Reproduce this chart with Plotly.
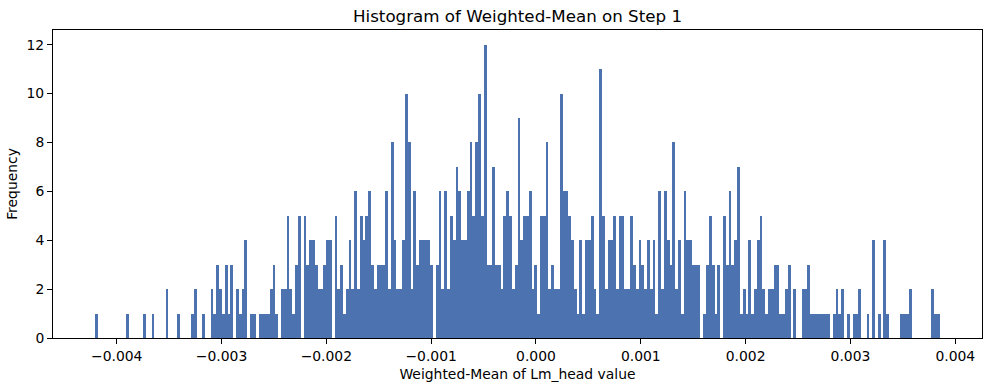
import numpy as np
import plotly.graph_objects as go

# Histogram data (300 equal-width bins)
data_min = -0.0042048
data_max = 0.0038522
counts = [
    1, 0, 0, 0, 0, 0, 0, 0, 0, 0,
    0, 1, 0, 0, 0, 0, 0, 1, 0, 0,
    1, 0, 0, 0, 0, 2, 0, 0, 0, 1,
    0, 0, 0, 0, 1, 2, 0, 0, 1, 0,
    0, 2, 1, 3, 2, 1, 3, 1, 3, 0,
    2, 1, 2, 4, 0, 1, 1, 0, 1, 1,
    1, 1, 2, 3, 1, 0, 2, 2, 5, 2,
    1, 3, 5, 0, 5, 3, 4, 4, 3, 2,
    2, 3, 4, 4, 0, 5, 2, 3, 1, 2,
    4, 2, 6, 2, 5, 4, 5, 6, 3, 2,
    3, 3, 3, 6, 2, 8, 4, 2, 2, 4,
    10, 8, 2, 6, 3, 4, 4, 4, 4, 3,
    0, 3, 6, 2, 6, 2, 5, 4, 7, 6,
    4, 4, 6, 8, 5, 8, 10, 5, 12, 3,
    3, 7, 3, 3, 2, 5, 6, 5, 2, 3,
    9, 4, 5, 5, 6, 2, 3, 1, 5, 5,
    8, 2, 3, 2, 2, 10, 6, 6, 5, 4,
    2, 1, 4, 1, 4, 4, 5, 2, 1, 11,
    5, 2, 4, 4, 5, 2, 5, 5, 2, 2,
    5, 3, 2, 4, 3, 2, 4, 2, 4, 1,
    6, 2, 6, 4, 3, 8, 2, 4, 1, 6,
    4, 4, 3, 3, 3, 0, 1, 3, 5, 3,
    1, 3, 0, 5, 3, 6, 3, 4, 7, 1,
    2, 1, 4, 1, 2, 4, 5, 2, 1, 2,
    2, 3, 3, 1, 1, 2, 3, 0, 2, 0,
    0, 2, 2, 3, 1, 1, 1, 1, 1, 1,
    1, 0, 1, 2, 1, 2, 0, 1, 0, 1,
    1, 2, 0, 0, 1, 0, 4, 0, 1, 0,
    4, 1, 0, 0, 0, 0, 1, 1, 1, 2,
    0, 0, 0, 0, 0, 0, 0, 2, 1, 1,
]
x_ticks = [-0.004, -0.003, -0.002, -0.001, 0.0, 0.001, 0.002, 0.003, 0.004]
x_tick_labels = ["\u22120.004", "\u22120.003", "\u22120.002", "\u22120.001", "0.000",
                 "0.001", "0.002", "0.003", "0.004"]
y_ticks = [0, 2, 4, 6, 8, 10, 12]

title_text = "Histogram of Weighted-Mean on Step 1"
x_label = "Weighted-Mean of Lm_head value"
y_label = "Frequency"

edges = np.linspace(data_min, data_max, len(counts) + 1)
centers = (edges[:-1] + edges[1:]) / 2
bw = edges[1] - edges[0]

span = data_max - data_min
x_range = [data_min - 0.05 * span, data_max + 0.05 * span]
y_range = [0, max(counts) * 1.05]

FONT = "DejaVu Sans"
BAR = "#4c72b0"

fig = go.Figure()
fig.add_trace(go.Bar(
    x=centers, y=counts, width=[bw] * len(counts),
    marker=dict(color=BAR, line=dict(width=0)),
    hoverinfo="x+y", showlegend=False,
))

axis_common = dict(
    showgrid=False, zeroline=False, showline=True, linecolor="black", linewidth=1,
    mirror=True, ticks="outside", ticklen=5, tickwidth=1, tickcolor="black",
    tickfont=dict(family=FONT, size=13.9, color="black"), automargin=False,
)

fig.update_layout(
    width=986, height=387,
    margin=dict(l=53, r=4, t=30, b=49),
    paper_bgcolor="white", plot_bgcolor="white",
    bargap=0,
    font=dict(family=FONT, color="black"),
    title=dict(text=title_text, x=0.5, xref="paper", xanchor="center",
               y=1 - 16 / 387, yref="container", yanchor="middle",
               font=dict(family=FONT, size=16.7, color="black")),
    xaxis=dict(range=x_range, tickvals=x_ticks, ticktext=x_tick_labels,
               title=dict(text=x_label, font=dict(family=FONT, size=13.9), standoff=6),
               **axis_common),
    yaxis=dict(range=y_range, tickvals=y_ticks,
               title=dict(text=y_label, font=dict(family=FONT, size=13.9), standoff=5),
               **axis_common),
)

fig.write_html("out.html", config={"displayModeBar": False},
               post_script="document.body.style.margin='0';document.body.style.overflow='hidden';")
